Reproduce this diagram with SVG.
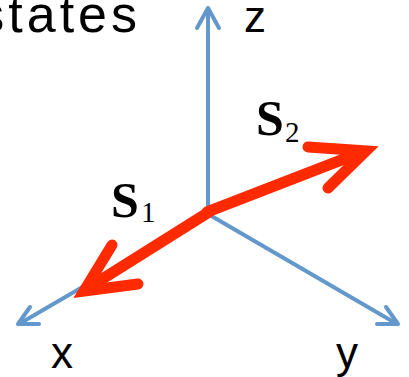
<svg xmlns="http://www.w3.org/2000/svg" width="409" height="377" viewBox="0 0 409 377">
<style>
.ax{fill:none;stroke:#6298cb;stroke-width:4;stroke-linecap:round;stroke-linejoin:round}
.sp{fill:none;stroke:#ff2a00;stroke-width:11;stroke-linecap:round;stroke-linejoin:miter;stroke-miterlimit:10}
.lbl{font-family:"Liberation Sans",Arial,sans-serif;font-size:44px;fill:#000}
.bs{font-family:"Liberation Serif","Times New Roman",serif;font-weight:bold;font-size:50px;fill:#000}
.sub{font-family:"Liberation Serif","Times New Roman",serif;font-size:29px;fill:#000}
</style>
<rect width="409" height="377" fill="#fff"/>
<text class="lbl" x="141" y="32" text-anchor="end" style="font-size:52px;letter-spacing:4px">states</text>
<g id="axes">
<g id="z-axis"><line class="ax" x1="208" y1="212" x2="208" y2="9"/><polyline class="ax" points="197,28 208,8 219,28"/></g>
<g id="x-axis"><line class="ax" x1="208" y1="214" x2="19" y2="324"/><polyline class="ax" points="30,307 18,324 39,324"/></g>
<g id="y-axis"><line class="ax" x1="208" y1="214" x2="397" y2="324"/><polyline class="ax" points="386,307 398,324 377,324"/></g>
</g>
<g id="labels">
<text class="lbl" x="244" y="32">z</text>
<text class="lbl" x="51" y="368">x</text>
<text class="lbl" x="336" y="368">y</text>
</g>
<g id="connectors">
<g id="S1"><path class="sp" d="M209,212 L88,288"/><polyline class="sp" points="112,245 84,291 138,284"/></g>
<g id="S2"><path class="sp" d="M207,212 L362,152"/><polyline class="sp" points="308,147 366,151 328,188"/></g>
</g>
<g id="S1-label"><text class="bs" x="111" y="217">S</text><text class="sub" x="141" y="222">1</text></g>
<g id="S2-label"><text class="bs" x="256" y="135">S</text><text class="sub" x="285" y="142">2</text></g>
</svg>
